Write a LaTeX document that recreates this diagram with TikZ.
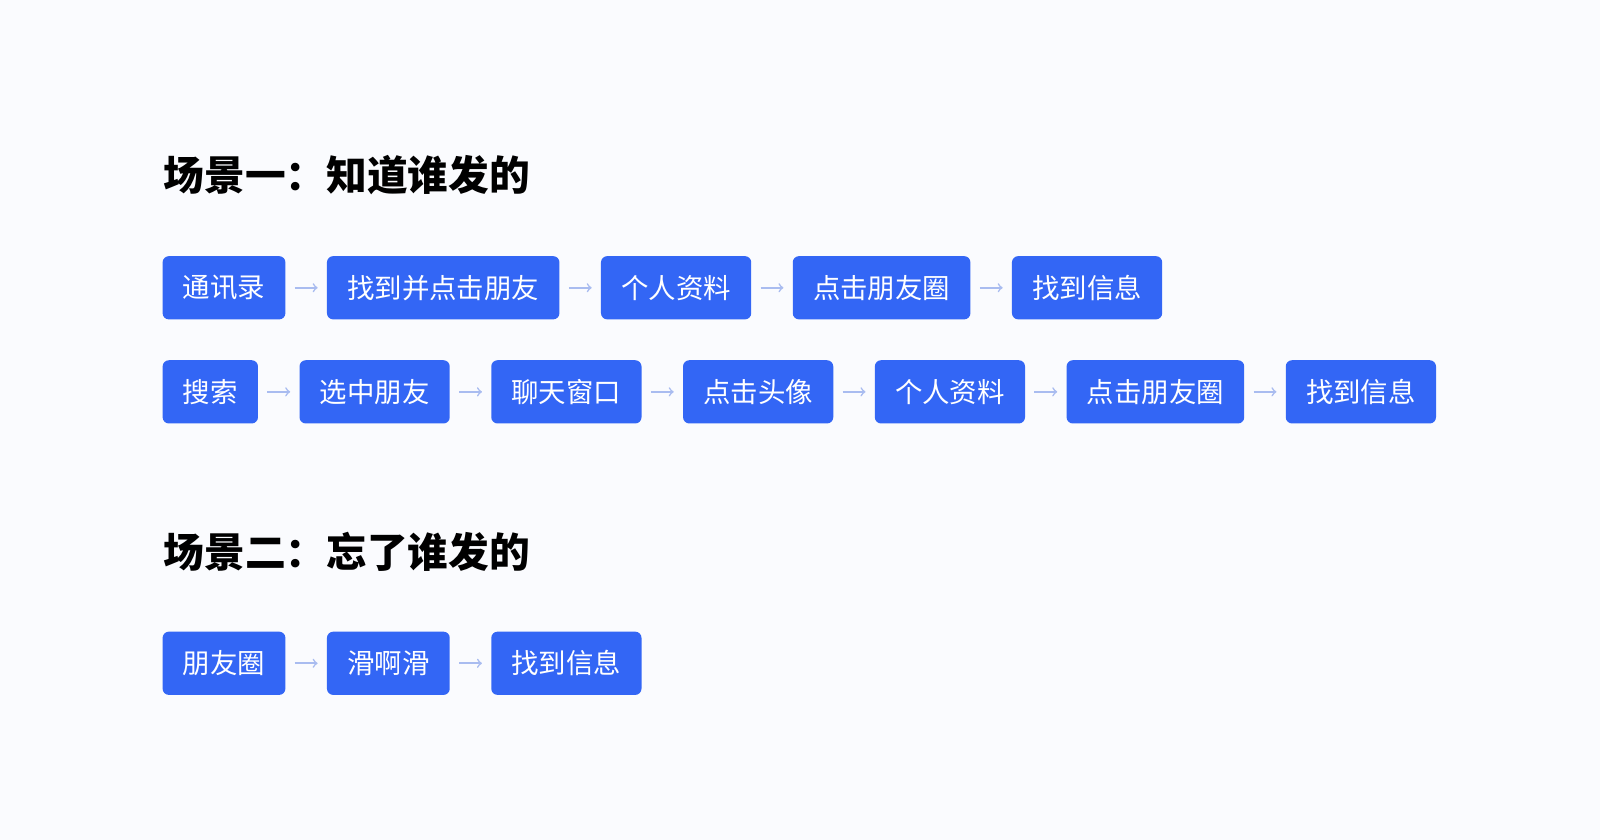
\documentclass[tikz,border=0pt]{standalone}
\usepackage{fontspec}
\newfontfamily\cjk{Noto Sans CJK SC}
\usetikzlibrary{positioning}
\definecolor{bgpage}{HTML}{FAFBFE}
\definecolor{boxblue}{HTML}{3366F5}
\definecolor{arrowblue}{HTML}{A9BCF0}

\tikzset{
  stepbox/.style={fill=boxblue, text=white, rounded corners=3.5pt, inner xsep=11.3pt,
    inner ysep=0pt, minimum height=1.24cm, font=\cjk\fontsize{15.3}{16}\selectfont},
  flow/.style={draw=arrowblue, line width=0.9pt, ->, shorten <=5pt, shorten >=5pt},
  title/.style={anchor=west, inner sep=0pt, font=\cjk\bfseries\fontsize{22.7}{24}\selectfont}
}

\begin{document}
\begin{tikzpicture}[x=0.02cm, y=-0.02cm, node distance=0.8cm]

\fill[bgpage] (0,0) rectangle (1568,823);
\useasboundingbox (0,0) rectangle (1568,823);

% scene one
\node[title] (t1) at (160,172) {场景一：知道谁发的};

\node[stepbox, anchor=west] (a1) at (159,282) {通讯录};
\node[stepbox, right=of a1] (a2) {找到并点击朋友};
\node[stepbox, right=of a2] (a3) {个人资料};
\node[stepbox, right=of a3] (a4) {点击朋友圈};
\node[stepbox, right=of a4] (a5) {找到信息};

\node[stepbox, anchor=west] (b1) at (159,384) {搜索};
\node[stepbox, right=of b1] (b2) {选中朋友};
\node[stepbox, right=of b2] (b3) {聊天窗口};
\node[stepbox, right=of b3] (b4) {点击头像};
\node[stepbox, right=of b4] (b5) {个人资料};
\node[stepbox, right=of b5] (b6) {点击朋友圈};
\node[stepbox, right=of b6] (b7) {找到信息};

% scene two
\node[title] (t2) at (160,541) {场景二：忘了谁发的};

\node[stepbox, anchor=west] (c1) at (159,650) {朋友圈};
\node[stepbox, right=of c1] (c2) {滑啊滑};
\node[stepbox, right=of c2] (c3) {找到信息};

\foreach \p/\q in {a1/a2,a2/a3,a3/a4,a4/a5,b1/b2,b2/b3,b3/b4,b4/b5,b5/b6,b6/b7,c1/c2,c2/c3}
  \draw[flow] (\p.east) -- (\q.west);

\end{tikzpicture}
\end{document}
